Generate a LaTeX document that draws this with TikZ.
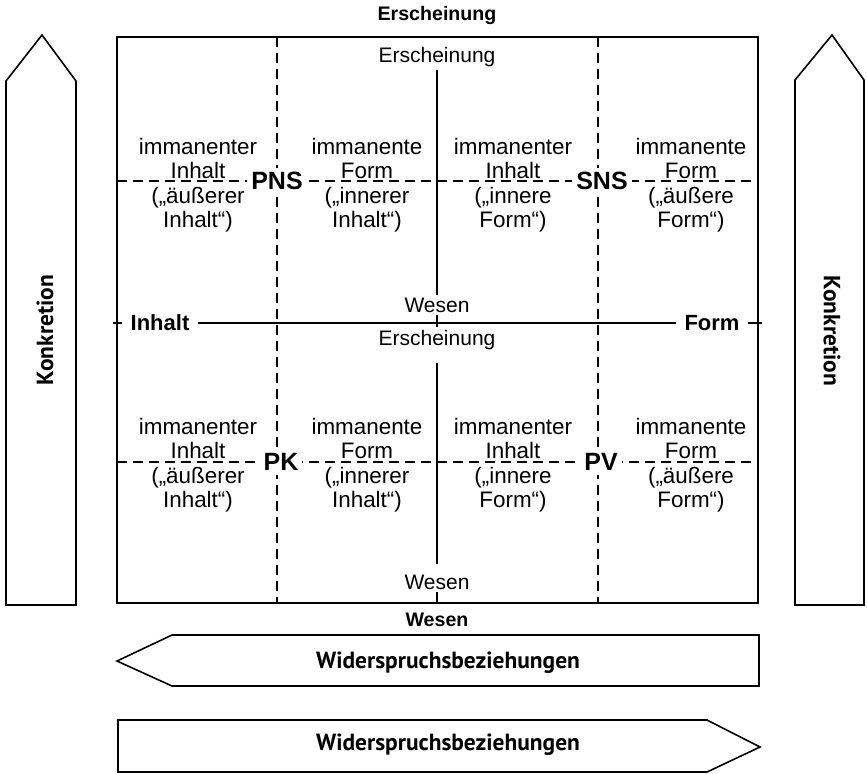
\documentclass[tikz,border=0pt]{standalone}
\usepackage{fontspec}
\setmainfont{Liberation Sans}
\newfontfamily\narrowfont{PT Sans}

\tikzset{
  lbl/.style={inner sep=1pt, font=\fontsize{10.5}{12}\selectfont},
  boldlbl/.style={inner sep=2pt, font=\bfseries\fontsize{9.8}{12}\selectfont},
  axislbl/.style={inner sep=4pt, fill=white, font=\bfseries\fontsize{11}{13}\selectfont},
  pairlbl/.style={inner sep=2pt, fill=white, font=\bfseries\fontsize{12.5}{14}\selectfont},
  cell/.style={align=center, inner sep=0pt, font=\fontsize{11.2}{12.25}\selectfont},
  arrowlbl/.style={font=\narrowfont\bfseries\fontsize{11.7}{13}\selectfont},
  grid/.style={dash pattern=on 5pt off 3pt},
}

\begin{document}
\begin{tikzpicture}[x=0.5pt, y=-0.5pt, line width=0.8pt]
        \useasboundingbox (0,0) rectangle (867,773);
        \draw (6,605) -- (6,81) -- (42,35) -- (76,81) -- (76,605) -- cycle; % left arrow
        \node[arrowlbl, rotate=90] (konkL) at (45,330) {Konkretion};
        \draw (795,605) -- (795,80) -- (832,35) -- (864,80) -- (864,605) -- cycle; % right arrow
        \node[arrowlbl, rotate=-90] (konkR) at (832,331) {Konkretion};
        \draw (117,37) rectangle (758,603); % frame
        \draw[grid] (277,37) -- (277,603); % inner left
        \draw[grid] (598,37) -- (598,603); % inner right
        \draw[grid] (117,181) -- (758,181); % upper half
        \draw[grid] (117,462) -- (758,462); % lower half
        \node[boldlbl] (erschTop) at (437,15) {Erscheinung};
        \node[lbl] (erschA) at (437,57) {Erscheinung};
        \node[lbl] (wesenA) at (437,305) {Wesen};
        \node[lbl] (erschB) at (437,340) {Erscheinung};
        \node[lbl] (wesenB) at (437,582) {Wesen};
        \node[boldlbl] (wesenBot) at (437,620) {Wesen};
        \coordinate (midBot) at (437,603);
        \draw (erschA) -- (wesenA); % upper axis
        \draw (wesenA) -- (erschB);
        \draw[shorten <=5pt, shorten >=4pt] (erschB) -- (wesenB); % lower axis
        \draw (wesenB) -- (midBot);
        \coordinate (midL) at (113,323);
        \coordinate (midR) at (762,323);
        \node[axislbl] (inhalt) at (160,323) {Inhalt};
        \node[axislbl] (form) at (712,323) {Form};
        \draw (midL) -- (inhalt) -- (form) -- (midR); % Inhalt - Form
        \node[pairlbl] (pns) at (277,181) {PNS};
        \node[pairlbl] (sns) at (602,181) {SNS};
        \node[pairlbl] (pk) at (281,462) {PK};
        \node[pairlbl] (pv) at (601,462) {PV};
        \node[cell] (c11) at (198,185) {immanenter\\Inhalt\\(„äußerer\\Inhalt“)};
        \node[cell] (c12) at (367,185) {immanente\\Form\\(„innerer\\Inhalt“)};
        \node[cell] (c13) at (513,185) {immanenter\\Inhalt\\(„innere\\Form“)};
        \node[cell] (c14) at (691,185) {immanente\\Form\\(„äußere\\Form“)};
        \node[cell] (c21) at (198,465) {immanenter\\Inhalt\\(„äußerer\\Inhalt“)};
        \node[cell] (c22) at (367,465) {immanente\\Form\\(„innerer\\Inhalt“)};
        \node[cell] (c23) at (513,465) {immanenter\\Inhalt\\(„innere\\Form“)};
        \node[cell] (c24) at (691,465) {immanente\\Form\\(„äußere\\Form“)};
        \draw (117,661) -- (172,635) -- (759,635) -- (759,686) -- (172,686) -- cycle; % arrow to the left
        \node[arrowlbl] (widerA) at (448,663) {Widerspruchsbeziehungen};
        \draw (118,720) -- (707,720) -- (760,747) -- (707,772) -- (118,772) -- cycle; % arrow to the right
        \node[arrowlbl] (widerB) at (448,745) {Widerspruchsbeziehungen};
    \end{tikzpicture}
\end{document}
